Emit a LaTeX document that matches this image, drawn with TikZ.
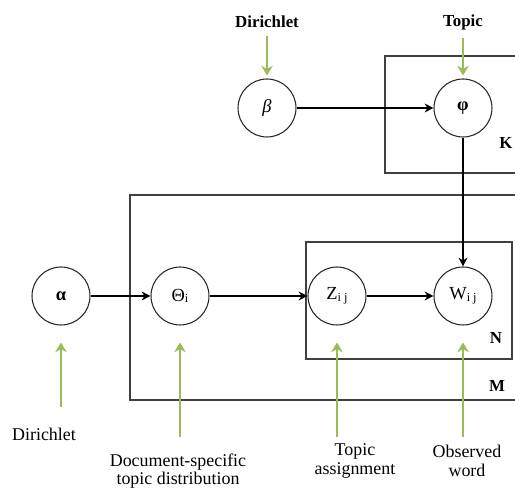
\documentclass[tikz,border=0pt]{standalone}
\usepackage{fontspec}
\setmainfont{Liberation Serif}
\usetikzlibrary{arrows.meta,calc}
\definecolor{dirgreen}{RGB}{155,187,89}
\newcommand{\sub}[1]{\raisebox{-1pt}{\scriptsize #1}}
\tikzset{
  var/.style={circle,draw=black!85,line width=.6pt,minimum size=1.16cm,inner sep=0pt,font=\fontsize{10.5}{12}\selectfont},
  link/.style={-{Stealth[length=5pt,width=5pt]},line width=1.1pt},
  prior/.style={-{Stealth[length=5.5pt,width=6.5pt]},line width=1.4pt,dirgreen},
  plate/.style={draw=black!75,line width=.7pt},
  lbl/.style={font=\fontsize{10.2}{10.5}\selectfont,align=center,inner sep=1pt},
  head/.style={font=\fontsize{9.6}{10.5}\selectfont\bfseries,inner sep=1pt}
}
\begin{document}
\begin{tikzpicture}[x=0.02cm,y=-0.02cm]
\clip(0,0)rectangle(515,489);
%plates
\draw[plate](385,56)rectangle(530,173);
\draw[plate](130,195)rectangle(530,400);
\draw[plate](306,242)rectangle(512,359);
\node[head](Klbl)at(506,143){K};
\node[head](Nlbl)at(496,338){N};
\node[head](Mlbl)at(497,386){M};
%variables
\node[var](beta)at(267,108){\textit{β}};
\node[var](phi)at(463,108){\textbf{φ}};
\node[var](alpha)at(61,296){\textbf{α}};
\node[var](theta)at(180,296){Θ\sub{i}};
\node[var](z)at(337,296){Z\sub{i j}};
\node[var](w)at(463,296){W\sub{i j}};
%edges
\draw[link](beta)--(phi);
\draw[link](phi)--(w);
\draw[link](alpha)--(theta);
\draw[link](theta)--(z);
\draw[link](z)--(w);
%top labels
\node[head](dirtop)at(267,22){Dirichlet};
\node[head](topic)at(463,22){Topic};
\draw[prior](dirtop.south)++(0,6)--($(beta.north)+(0,-3)$);
\draw[prior](topic.south)++(0,6)--($(phi.north)+(0,-3)$);
%bottom labels
\node[lbl](dirbot)at(44,434){Dirichlet};
\node[lbl](docdist)at(178,471){Document-specific\\topic distribution};
\node[lbl](assign)at(355,461){Topic\\assignment};
\node[lbl](obs)at(467,461){Observed\\word};
\coordinate(a0)at(61,407);
\coordinate(t0)at(180,437);
\coordinate(z0)at(337,437);
\coordinate(w0)at(463,437);
\draw[prior](a0)--($(alpha.south)+(0,17)$);
\draw[prior](t0)--($(theta.south)+(0,17)$);
\draw[prior](z0)--($(z.south)+(0,17)$);
\draw[prior](w0)--($(w.south)+(0,17)$);
\end{tikzpicture}
\end{document}
